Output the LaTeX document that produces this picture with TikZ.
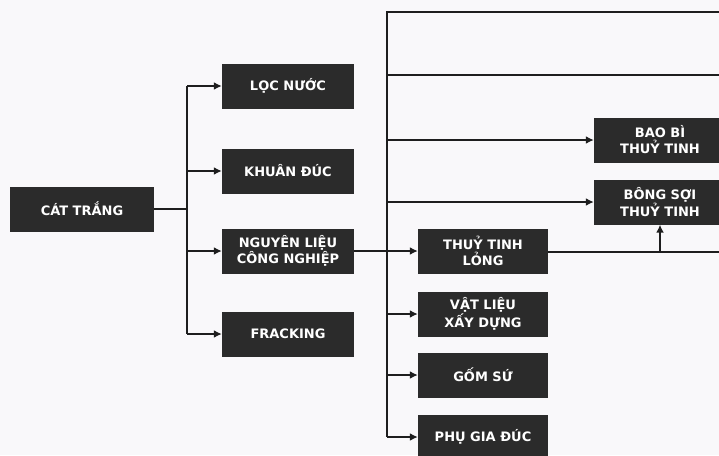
\documentclass[tikz,border=0pt]{standalone}
\usepackage{fontspec}
\setmainfont{DejaVu Sans}
\usepackage{xcolor}
\usetikzlibrary{arrows.meta,positioning,calc}
\definecolor{boxfill}{HTML}{2B2B2B}
\definecolor{wire}{HTML}{1E1E1E}
\definecolor{paper}{HTML}{F9F8FA}
\tikzset{
  font=\bfseries\fontsize{13}{16}\selectfont,
  >={Latex[length=8pt,width=8pt]},
  box/.style={
    fill=boxfill, text=white, align=center, inner sep=2pt,
    minimum width=132pt, minimum height=45pt
  },
  wide/.style={box, minimum width=144pt},
  line/.style={line width=2pt, draw=wire},
  flow/.style={->, line width=2pt, draw=wire}
}

\begin{document}
\begin{tikzpicture}[x=1pt,y=-1pt]
  \fill[paper] (0,0) rectangle (719,455);
  \useasboundingbox (0,0) rectangle (719,455);

  \node[wide] (cat)   at (82,209)  {CÁT TRẮNG};
  \node[box]  (loc)   at (288,86)  {LỌC NƯỚC};
  \node[box]  (khuan) at (288,171) {KHUÂN ĐÚC};
  \node[box]  (nlcn)  at (288,251) {NGUYÊN LIỆU\\CÔNG NGHIỆP};
  \node[box]  (frack) at (288,334) {FRACKING};

  \node[box, minimum width=130pt] (long)  at (483,251) {THUỶ TINH\\LỎNG};
  \node[box, minimum width=130pt] (vlxd)  at (483,314) {VẬT LIỆU\\XẤY DỰNG};
  \node[box, minimum width=130pt] (gom)   at (483,375) {GỐM SỨ};
  \node[box, minimum width=130pt] (phu)   at (483,437) {PHỤ GIA ĐÚC};

  \node[box] (bao)  at (660,140) {BAO BÌ\\THUỶ TINH};
  \node[box] (bong) at (660,202) {BÔNG SỢI\\THUỶ TINH};

  \coordinate (forkA) at (187,209);
  \coordinate (forkB) at (387,12);
  \coordinate (edgeT) at (719,12);
  \coordinate (edgeM) at (719,75);
  \coordinate (edgeL) at (719,252);

  % first split
  \draw[line] (cat) -- (forkA);
  \draw[line] (forkA |- loc) -- (forkA |- frack);
  \foreach \n in {loc,khuan,nlcn,frack}
    \draw[flow] (forkA |- \n) -- (\n);

  % industrial uses
  \draw[line] (edgeT) -- (forkB) -- (forkB |- phu);
  \draw[line] (forkB |- edgeM) -- (edgeM);
  \draw[flow] (nlcn) -- (long);
  \foreach \n in {vlxd,gom,phu,bao,bong}
    \draw[flow] (forkB |- \n) -- (\n);

  % glass branch
  \draw[line] (long.east |- edgeL) -- (edgeL);
  \draw[flow] (bong.south |- edgeL) -- (bong);
\end{tikzpicture}
\end{document}
